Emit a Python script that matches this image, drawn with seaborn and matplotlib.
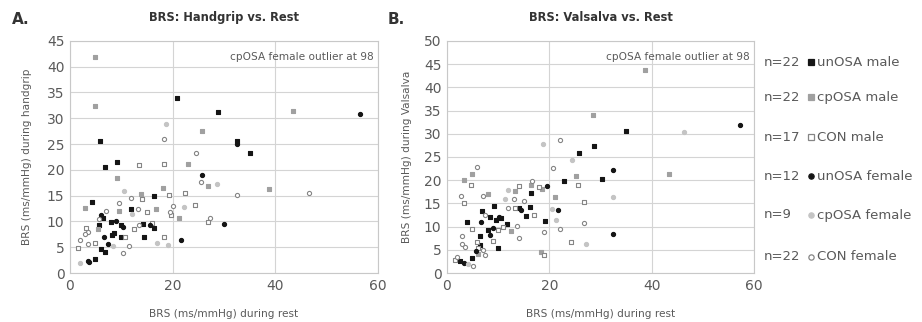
import numpy as np
import pandas as pd
import matplotlib
matplotlib.use("Agg")
import matplotlib.pyplot as plt
from matplotlib.lines import Line2D
import seaborn as sns

# group codes: um unOSA male, cm cpOSA male, nm CON male,
#              uf unOSA female, cf cpOSA female, nf CON female
hg_rest = [4.8, 4.9, 20.9, 28.8, 43.4, 56.5, 5.9, 18.8, 18.3, 25.7, 32.6, 32.5, 35.1, 24.5,
           6.9, 9.2, 13.4, 18.4, 23.0, 9.2, 25.8, 25.6, 26.9, 28.6, 38.8, 32.5, 46.6, 18.2,
           19.2, 16.3, 13.9, 14.0, 11.8, 4.2, 2.9, 11.8, 13.2, 16.8, 22.3, 24.3, 19.4, 19.7,
           21.2, 6.1, 6.4, 5.6, 8.0, 9.0, 10.0, 10.3, 13.4, 14.2, 15.5, 16.4, 16.0, 27.2,
           26.9, 30.1, 3.2, 3.5, 8.1, 8.5, 6.6, 10.0, 10.8, 14.5, 18.4, 19.1, 21.7, 3.5,
           4.9, 7.4, 8.4, 6.1, 6.9, 1.6, 10.3, 3.5, 3.8, 4.8, 1.9, 2.9, 5.6, 12.0, 9.5,
           15.0, 7.0, 10.5, 20.0, 2.0, 12.5, 17.0, 22.5, 5.5, 11.5, 9.5]
hg_task = [41.8, 32.3, 33.9, 31.3, 31.5, 30.8, 25.5, 28.9, 25.9, 27.5, 25.5, 25.0, 23.3, 23.3,
           20.6, 21.5, 20.9, 21.1, 21.1, 18.4, 19.1, 17.7, 16.9, 17.3, 16.2, 15.1, 15.5, 16.4,
           15.1, 14.9, 15.4, 14.4, 14.5, 13.8, 12.7, 12.4, 12.5, 12.5, 12.8, 13.2, 11.9, 11.2,
           10.6, 11.2, 10.7, 9.4, 9.8, 10.0, 9.4, 9.0, 9.3, 9.5, 9.4, 8.8, 9.7, 10.6,
           9.8, 9.6, 8.7, 8.0, 7.4, 7.7, 7.0, 7.0, 7.0, 6.9, 6.9, 5.4, 6.5, 5.6,
           5.9, 5.6, 5.3, 4.7, 4.0, 4.8, 3.8, 2.3, 2.2, 2.7, 1.9, 7.6, 10.4, 11.5, 13.5,
           11.8, 12.0, 16.0, 13.0, 6.5, 8.5, 5.8, 15.5, 8.5, 5.2, 12.0]
hg_grp = ["cm", "cm", "um", "um", "cm", "uf", "um", "cf", "nf", "cm", "um", "uf", "um", "nf",
          "um", "um", "nm", "nm", "cm", "cm", "uf", "nf", "cm", "cf", "cm", "nf", "nf", "cm",
          "nm", "um", "cm", "nm", "nf", "um", "cm", "um", "nf", "cm", "cf", "nm", "nf", "nm",
          "cm", "uf", "um", "um", "um", "uf", "um", "uf", "nf", "um", "uf", "um", "nm", "nf",
          "nm", "uf", "nm", "nf", "um", "um", "uf", "um", "nm", "um", "nm", "cf", "uf", "nf",
          "nm", "uf", "cf", "um", "um", "nm", "nf", "uf", "uf", "um", "cf", "nf", "nf", "cf", "nf",
          "nm", "nf", "cf", "nf", "nf", "nm", "cf", "nm", "cm", "nf", "cm"]

vs_rest = [38.7, 28.5, 34.9, 18.7, 22.1, 28.7, 25.8, 24.4, 32.5, 43.4, 46.3, 57.3, 5.8, 4.8,
           3.3, 4.7, 20.8, 25.3, 30.2, 25.7, 22.9, 16.7, 16.4, 18.0, 18.6, 19.5, 16.4, 14.1,
           13.3, 11.9, 2.7, 7.1, 11.3, 13.1, 21.1, 32.5, 3.4, 6.8, 9.1, 13.3, 14.1, 14.5,
           16.2, 15.4, 26.8, 21.6, 20.5, 8.4, 9.5, 10.2, 10.6, 11.7, 11.0, 13.6, 19.2, 21.3,
           26.8, 4.0, 6.6, 4.9, 8.1, 8.9, 10.0, 6.4, 8.5, 19.0, 32.5, 5.9, 6.4, 2.9,
           10.0, 7.4, 5.6, 6.0, 24.2, 27.2, 18.4, 18.9, 4.8, 1.6, 2.5, 3.4, 4.2, 3.5,
           5.0, 7.0, 6.0, 12.0, 7.5, 2.0, 9.0, 15.0, 12.5, 17.0, 3.0, 22.0, 8.0, 14.0]
vs_task = [43.8, 34.0, 30.6, 27.9, 28.7, 27.3, 25.8, 24.3, 22.3, 21.4, 30.3, 31.8, 22.8, 21.4,
           20.1, 18.9, 22.7, 21.0, 20.3, 19.0, 19.8, 19.9, 18.9, 18.5, 18.0, 18.7, 17.2, 18.7,
           17.7, 17.8, 16.7, 16.5, 16.0, 15.9, 16.3, 16.3, 15.0, 13.4, 14.4, 14.0, 14.1, 13.6,
           14.2, 12.2, 15.2, 13.5, 13.8, 12.0, 11.5, 12.0, 11.8, 10.5, 10.0, 10.2, 11.3, 11.4,
           10.7, 10.9, 11.0, 9.5, 9.3, 9.7, 9.3, 8.0, 8.2, 8.8, 8.4, 6.6, 6.0, 6.3,
           5.5, 3.9, 4.8, 5.5, 6.6, 6.2, 4.6, 3.9, 3.3, 2.8, 2.5, 2.2, 1.9, 5.7,
           1.5, 5.0, 4.0, 14.0, 12.5, 3.5, 7.0, 15.5, 9.0, 12.5, 8.0, 9.5, 17.0, 7.5]
vs_grp = ["cm", "cm", "um", "cf", "nf", "um", "um", "cf", "uf", "cm", "cf", "uf", "nf", "cm",
          "cm", "nm", "nf", "cm", "um", "nm", "um", "nf", "cm", "nm", "cm", "uf", "um", "nm",
          "cm", "cf", "nf", "nf", "cf", "nf", "cm", "cf", "nm", "um", "um", "nm", "um", "uf",
          "um", "um", "nm", "uf", "cf", "um", "um", "uf", "um", "um", "nm", "nf", "um", "cf",
          "nf", "um", "uf", "nm", "um", "uf", "nm", "um", "uf", "nf", "uf", "nm", "um", "nf",
          "um", "nf", "uf", "nm", "nm", "cf", "cm", "nm", "um", "nm", "um", "uf", "cf", "nf",
          "nf", "nf", "cm", "nf", "nf", "nf", "nm", "nf", "cm", "nm", "nf", "nf", "cm", "nf"]

group_order = ["um", "cm", "nm", "uf", "cf", "nf"]
group_n = ["n=22", "n=22", "n=17", "n=12", "n=9", "n=22"]
group_names = ["unOSA male", "cpOSA male", "CON male", "unOSA female", "cpOSA female", "CON female"]

styles = {
    "um": dict(marker="s", color="#151515", edgecolor="#151515"),
    "cm": dict(marker="s", color="#a0a0a0", edgecolor="#a0a0a0"),
    "nm": dict(marker="s", color="white", edgecolor="#858585"),
    "uf": dict(marker="o", color="#151515", edgecolor="#151515"),
    "cf": dict(marker="o", color="#c4c4c4", edgecolor="#c4c4c4"),
    "nf": dict(marker="o", color="white", edgecolor="#858585"),
}

sns.set_theme(style="whitegrid")
plt.rcParams["font.family"] = ["DejaVu Sans"]

fig = plt.figure(figsize=(9.22, 3.22), dpi=100)
axA = fig.add_axes([0.0759, 0.152, 0.334, 0.721])
axB = fig.add_axes([0.4848, 0.152, 0.333, 0.721])

panels = [
    (axA, hg_rest, hg_task, hg_grp, "BRS: Handgrip vs. Rest",
     "BRS (ms/mmHg) during handgrip", 45, -0.123),
    (axB, vs_rest, vs_task, vs_grp, "BRS: Valsalva vs. Rest",
     "BRS (ms/mmHg) during Valsalva", 50, -0.114),
]

for ax, xs, ys, gs, title, ylab, ymax, ylx in panels:
    df = pd.DataFrame({"rest": xs, "task": ys, "group": gs})
    for g in group_order:
        sub = df[df["group"] == g]
        sns.scatterplot(data=sub, x="rest", y="task", s=9, linewidth=0.8,
                        ax=ax, legend=False, zorder=3, **styles[g])
    ax.set_xlim(0, 60)
    ax.set_ylim(0, ymax)
    ax.set_xticks([0, 20, 40, 60])
    ax.set_yticks(np.arange(0, ymax + 1, 5))
    ax.grid(True, color="#d4d4d4", linewidth=0.8)
    for sp in ax.spines.values():
        sp.set_color("#c8c8c8")
        sp.set_linewidth(0.8)
    ax.tick_params(axis="both", labelsize=10, labelcolor="#5a5a5a", length=0, pad=4)
    ax.set_xlabel("BRS (ms/mmHg) during rest", fontsize=7.6, color="#5a5a5a")
    ax.set_ylabel(ylab, fontsize=7.6, color="#5a5a5a")
    ax.xaxis.set_label_coords(0.5, -0.155)
    ax.yaxis.set_label_coords(ylx, 0.5)
    ax.text(0.5, 1.10, title, transform=ax.transAxes, ha="center", va="center",
            fontsize=8.3, fontweight="bold", color="#333333")
    ax.text(0.985, 0.93, "cpOSA female outlier at 98", transform=ax.transAxes,
            ha="right", va="center", fontsize=7.6, color="#5a5a5a")

fig.text(12 / 922, 1 - 20 / 322, "A.", fontsize=11, fontweight="bold", color="#333333",
         ha="left", va="center")
fig.text(388 / 922, 1 - 20 / 322, "B.", fontsize=11, fontweight="bold", color="#333333",
         ha="left", va="center")

# legend on the right
row_y = [62, 97, 137, 176, 215, 257]
for g, n, name, py in zip(group_order, group_n, group_names, row_y):
    yf = 1 - py / 322
    fig.text(764 / 922, yf, n, fontsize=9.5, color="#5a5a5a", ha="left", va="center")
    st = styles[g]
    fig.add_artist(Line2D([811 / 922], [yf], transform=fig.transFigure, linestyle="none",
                          marker=st["marker"], markersize=3.8,
                          markerfacecolor=st["color"], markeredgecolor=st["edgecolor"],
                          markeredgewidth=0.9))
    fig.text(817 / 922, yf, name, fontsize=9.5, color="#5a5a5a", ha="left", va="center")

fig.savefig("out.png", dpi=100, facecolor="white")
